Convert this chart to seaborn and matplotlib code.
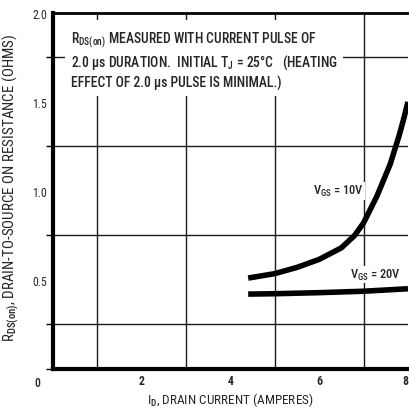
import numpy as np
import pandas as pd
import matplotlib
matplotlib.use("Agg")
import matplotlib.pyplot as plt
import seaborn as sns

# values
id_10v = [4.4, 5.0, 5.5, 6.0, 6.5, 6.8, 7.0, 7.3, 7.6, 7.8, 7.9, 8.0]
rds_10v = [0.51, 0.535, 0.57, 0.615, 0.68, 0.75, 0.82, 0.97, 1.15, 1.31, 1.40, 1.50]
id_20v = [4.4, 5.0, 6.0, 7.0, 8.0]
rds_20v = [0.42, 0.422, 0.428, 0.436, 0.45]

x_ticks = [0, 2, 4, 6, 8]
x_tick_labels = ["", "2", "4", "6", "8"]
y_ticks = [0.5, 1.0, 1.5, 2.0]
y_tick_labels = ["0.5", "1.0", "1.5", "2.0"]

sns.set_style("white")
plt.rcParams["font.family"] = ["Roboto Condensed", "Liberation Sans", "DejaVu Sans"]
plt.rcParams["font.weight"] = "medium"
plt.rcParams["mathtext.fontset"] = "custom"
plt.rcParams["mathtext.rm"] = "Roboto Condensed:medium"

fig = plt.figure(figsize=(4.1, 4.1), dpi=100)
ax = fig.add_axes([0.129, 0.098, 0.866, 0.868])

df10 = pd.DataFrame({"id": id_10v, "rds": rds_10v})
df20 = pd.DataFrame({"id": id_20v, "rds": rds_20v})
sns.lineplot(data=df10, x="id", y="rds", ax=ax, color="black", lw=4, solid_capstyle="butt", zorder=5)
sns.lineplot(data=df20, x="id", y="rds", ax=ax, color="black", lw=4, solid_capstyle="butt", zorder=5)

ax.set_xlim(0, 8)
ax.set_ylim(0, 2.0)
ax.set_xticks(np.arange(0, 8.01, 1), minor=True)
ax.set_yticks(np.arange(0, 2.01, 0.25), minor=True)
ax.grid(which="minor", color="0.1", lw=1.0)
ax.set_xticks(x_ticks)
ax.set_xticklabels(x_tick_labels)
ax.set_yticks(y_ticks)
ax.set_yticklabels(y_tick_labels)
ax.tick_params(which="both", length=0, labelsize=8.5, pad=4)
# short outward ticks at the quarter-ohm lines, as on the original sheet
ax.tick_params(axis="y", which="minor", left=True, length=5, width=1,
               direction="out", color="black")
ax.get_xticklabels()[-1].set_horizontalalignment("right")
ax.text(-0.035, -0.02, "0", transform=ax.transAxes, ha="right", va="top", fontsize=8.5)
for lbl in ax.get_xticklabels():
    lbl.set_fontweight("bold")
for lbl in ax.get_yticklabels():
    lbl.set_fontweight("regular")

for side in ["left", "bottom"]:
    ax.spines[side].set_linewidth(3)
    ax.spines[side].set_color("black")
ax.spines["top"].set_linewidth(2)
ax.spines["top"].set_color("black")
ax.spines["right"].set_visible(False)

ax.set_xlabel(r"I$_{\mathrm{D}}$, DRAIN CURRENT (AMPERES)", fontsize=9.5, labelpad=2)
ax.set_ylabel(r"R$_{\mathrm{DS(on)}}$, DRAIN-TO-SOURCE ON RESISTANCE (OHMS)", fontsize=10.8)
ax.yaxis.set_label_coords(-0.09, 0.51)

note = (r"R$_{\mathrm{DS(on)}}$ MEASURED WITH CURRENT PULSE OF" "\n"
        "2.0 \u03bcs DURATION.  INITIAL T$_{\\mathrm{J}}$ = 25\u00b0C   (HEATING\n"
        "EFFECT OF 2.0 \u03bcs PULSE IS MINIMAL.)")
ax.text(0.05, 0.955, note, transform=ax.transAxes, ha="left", va="top", fontsize=9.8,
        linespacing=1.3, zorder=6,
        bbox=dict(facecolor="white", edgecolor="none", pad=4))

ax.text(7.0, 1.0, r"V$_{\mathrm{GS}}$ = 10V", ha="right", va="center", fontsize=9, zorder=6,
        bbox=dict(facecolor="white", edgecolor="none", pad=1))
ax.text(7.85, 0.53, r"V$_{\mathrm{GS}}$ = 20V", ha="right", va="center", fontsize=9, zorder=6,
        bbox=dict(facecolor="white", edgecolor="none", pad=1))

fig.savefig("out.png", dpi=100, facecolor="white")
